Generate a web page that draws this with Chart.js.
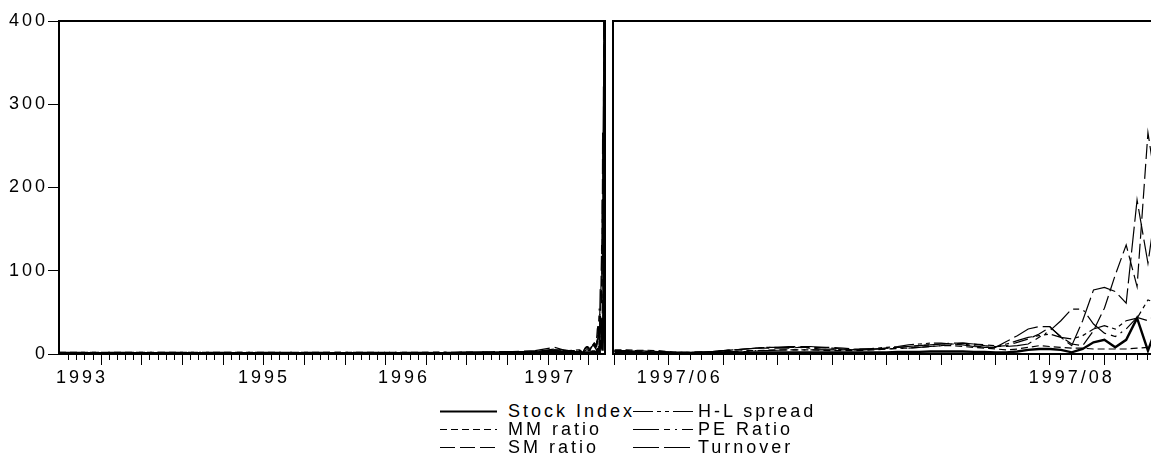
<!DOCTYPE html>
<html>
<head>
<meta charset="utf-8">
<script src="https://cdn.jsdelivr.net/npm/chart.js@4.4.1/dist/chart.umd.min.js"></script>
<style>
  html, body { margin: 0; padding: 0; background: #fff; }
  body { position: relative; width: 1151px; height: 472px; overflow: hidden; }
  canvas { position: absolute; top: 0; }
  #left { left: 0; }
  #right { left: 600px; }
  #legend { position: absolute; left: 0; top: 0; font: 18px 'Liberation Sans', Arial, sans-serif; letter-spacing: 3px; color: #000; }
  .item { position: absolute; height: 18px; line-height: 18px; white-space: nowrap; }
  .item svg { position: absolute; top: 0; }
  .item span { position: absolute; top: 0; }
</style>
</head>
<body>
<canvas id="left" width="607" height="400"></canvas>
<canvas id="right" width="620" height="400"></canvas>
<div id="legend"></div>
<script>
'use strict';

// long history, sampled observation index -> values (all close to zero)
const histIndex = [0, 90, 180, 270, 360, 450, 540, 630, 720, 810, 900, 990, 1030, 1060];
const stockHist = [1, 1, 1, 1, 1, 1, 1, 1, 1, 1, 1.5, 1.5, 3, 2];
const hlHist    = [1.5, 1.5, 1.5, 1.5, 1.5, 1.5, 1.5, 1.5, 1.5, 2, 2, 2.5, 5, 4];
const mmHist    = [2, 2, 2, 2, 2, 2, 2, 2, 2, 2, 2.5, 3, 5, 4];
const peHist    = [2, 2, 2, 2, 2, 2, 2, 2, 2, 2, 2.5, 3, 4, 3];
const smHist    = [1, 1, 1, 1, 1, 1, 1, 1, 1, 1.5, 2, 3, 6, 4];
const toHist    = [1, 1, 1, 1, 1, 1, 1, 1, 1, 1, 2, 4, 8, 3];

// last window, one value per observation (1997/05 .. end)
const recentStart = 1081;
const stockRecent = [2, 2, 2, 1.5, 1.5, 1, 1, 1, 1, 1.5, 1.5, 1.5, 2, 2, 2, 2, 2, 2, 2, 2,
  2, 2, 2, 2, 2, 2, 2.5, 2.5, 2.5, 3, 3, 3, 3, 2.5, 2.5, 2, 2, 3, 5, 6,
  6, 5, 2, 6, 14, 17, 8, 17, 43, 4, 40, 150, 320, 420];
const hlRecent = [4, 4, 3.5, 3, 3, 2, 2, 2, 2.5, 3, 4, 5, 6, 7, 8, 8, 8, 8, 7, 6,
  6, 5, 5, 6, 7, 8, 9, 11, 12, 13, 13, 12, 12, 10, 8, 8, 12, 16, 20, 22,
  24, 20, 18, 22, 30, 34, 30, 40, 43, 65, 60, 150, 350, 480];
const mmRecent = [5, 5, 4.5, 4.5, 4, 3, 2, 2, 2, 2.5, 3, 3.5, 4, 4, 4.5, 5, 5, 5, 5, 4.5,
  4, 4, 4, 4.5, 5, 6, 7, 7, 8, 9, 10, 10, 9, 8, 7, 6, 5, 6, 8, 10,
  9, 8, 7, 7, 6, 6, 6, 6, 7, 8, 30, 120, 300, 450];
const peRecent = [3, 3, 3, 2.5, 2.5, 2, 1.5, 1.5, 2, 2, 2.5, 3, 3, 4, 4, 4.5, 5, 5, 5, 5,
  5, 5, 5.5, 6, 6, 6, 6.5, 7, 8, 9, 10, 12, 13, 12, 11, 10, 9, 10, 12, 20,
  28, 40, 54, 54, 36, 25, 21, 30, 44, 40, 50, 140, 330, 460];
const smRecent = [4, 4, 4, 3.5, 3, 2.5, 2, 2, 2, 3, 4, 5, 6, 7, 7, 7, 7, 8, 8, 8,
  8, 7, 6, 6, 6, 7, 8, 9, 10, 11, 12, 13, 13, 12, 10, 9, 10, 14, 18, 24,
  32, 21, 12, 10, 28, 55, 95, 131, 81, 266, 180, 260, 400, 520];
const toRecent = [3, 3, 3, 3, 2.5, 2, 2, 2, 2.5, 3, 4, 5, 6, 7, 8, 8, 9, 9, 9, 8,
  7, 6, 5, 5, 6, 7, 8, 9, 10, 11, 12, 12, 11, 9, 8, 8, 15, 22, 30, 33,
  33, 20, 10, 40, 77, 80, 75, 61, 185, 109, 200, 300, 420, 520];

// axes
const yTicks = [0, 100, 200, 300, 400];
const yearLabels = ['1993', '1995', '1996', '1997'];
const yearIndex = [48, 426, 717, 1021];
const monthLabels = ['1997/06', '1997/08'];
const monthObs = [6, 42];

const series = [
  { name: 'Stock Index', hist: stockHist, recent: stockRecent, dash: [], width: 2.4 },
  { name: 'H-L spread', hist: hlHist, recent: hlRecent, dash: [20, 4, 4, 4, 4, 4], width: 1.2 },
  { name: 'MM ratio', hist: mmHist, recent: mmRecent, dash: [7, 4], width: 1.2 },
  { name: 'PE Ratio', hist: peHist, recent: peRecent, dash: [26, 5, 6, 5, 2, 5], width: 1.2 },
  { name: 'SM ratio', hist: smHist, recent: smRecent, dash: [15, 5], width: 1.2 },
  { name: 'Turnover', hist: toHist, recent: toRecent, dash: [26, 5], width: 1.2 }
];

Chart.defaults.font.family = "'Liberation Sans', Arial, sans-serif";
Chart.defaults.font.size = 18;
Chart.defaults.color = '#000';

const spacing = { id: 'spacing', beforeDraw(chart) { chart.ctx.letterSpacing = '3px'; } };

function frameAxis(pos) {
  return {
    type: 'linear', position: pos,
    grid: { display: false }, ticks: { display: false },
    border: { display: true, color: '#000', width: 2 },
    afterFit: s => { if (pos === 'top' || pos === 'bottom') s.height = 0; else s.width = 0; }
  };
}

// tick list builder: minor ticks, every 5th long, plus label-only ticks
function tickAxis(values, majors, labels, min, max) {
  const all = values.concat([...labels.keys()].filter(v => values.indexOf(v) < 0)).sort((a, b) => a - b);
  return {
    type: 'linear', position: 'bottom', min: min, max: max,
    afterBuildTicks: s => { s.ticks = all.map(v => ({ value: v })); },
    afterFit: s => { s.height = 46; },
    ticks: { autoSkip: false, maxRotation: 0, minRotation: 0, padding: 2,
      callback: v => labels.get(v) || '' },
    grid: {
      drawOnChartArea: false, tickLength: 11, tickColor: '#000',
      tickWidth: c => (c.tick && values.indexOf(c.tick.value) < 0) ? 0 : 1,
      tickBorderDash: c => (c.tick && majors.has(c.tick.value)) ? [] : [5, 40]
    },
    border: { display: true, color: '#000', width: 2 }
  };
}

// left panel: whole sample
const leftTickVals = [], leftMajor = new Set();
for (let i = 0; 20 + i * 16.9 <= 1135; i++) {
  const v = 20 + i * 16.9;
  leftTickVals.push(v);
  if (i % 5 === 4) leftMajor.add(v);
}
const leftLabels = new Map(yearIndex.map((v, i) => [v, yearLabels[i]]));

new Chart(document.getElementById('left'), {
  type: 'line',
  data: {
    datasets: series.map(s => ({
      label: s.name,
      data: s.hist.map((v, i) => ({ x: histIndex[i], y: v }))
        .concat(s.recent.map((v, k) => ({ x: recentStart + k, y: v }))),
      borderColor: '#000', borderWidth: s.width, borderDash: s.dash,
      pointRadius: 0, tension: 0, fill: false
    }))
  },
  options: {
    responsive: false, animation: false,
    layout: { padding: { top: 21, right: 2, bottom: 0, left: 0 } },
    plugins: { legend: { display: false }, tooltip: { enabled: false } },
    scales: {
      x: tickAxis(leftTickVals, leftMajor, leftLabels, 0, 1135),
      y: {
        min: 0, max: 400,
        afterBuildTicks: s => { s.ticks = yTicks.map(v => ({ value: v })); },
        afterFit: s => { s.width = 59; },
        ticks: { padding: 0 },
        grid: { drawOnChartArea: false, tickLength: 11, tickColor: '#000' },
        border: { display: true, color: '#000', width: 2 }
      },
      x2: frameAxis('top'),
      y2: frameAxis('right')
    }
  },
  plugins: [spacing]
});

// right panel: last window, one tick per observation
const rightTickVals = [], rightMajor = new Set();
for (let k = 0; k <= 54; k++) {
  rightTickVals.push(k);
  if (k % 5 === 0) rightMajor.add(k);
}
const rightLabels = new Map(monthObs.map((v, i) => [v, monthLabels[i]]));

new Chart(document.getElementById('right'), {
  type: 'line',
  data: {
    datasets: series.map(s => ({
      label: s.name,
      data: s.recent.map((v, k) => ({ x: k, y: v })),
      borderColor: '#000', borderWidth: s.width, borderDash: s.dash,
      pointRadius: 0, tension: 0, fill: false
    }))
  },
  options: {
    responsive: false, animation: false,
    layout: { padding: { top: 21, right: 10, bottom: 0, left: 0 } },
    plugins: { legend: { display: false }, tooltip: { enabled: false } },
    scales: {
      x: tickAxis(rightTickVals, rightMajor, rightLabels, -0.14, 54.7),
      y: {
        min: 0, max: 400,
        afterFit: s => { s.width = 13; },
        ticks: { display: false },
        grid: { display: false },
        border: { display: true, color: '#000', width: 2 }
      },
      x2: frameAxis('top')
    }
  },
  plugins: [spacing]
});

// legend, two columns
const legend = document.getElementById('legend');
const colSample = [440, 633], colWidth = [57, 60], colText = [508, 698];
const rowY = [411, 429, 447];
series.forEach((s, i) => {
  const c = i % 2, r = Math.floor(i / 2);
  const item = document.createElement('div');
  item.className = 'item';
  item.style.left = '0px';
  item.style.top = (rowY[r] - 9) + 'px';
  item.innerHTML =
    '<svg width="' + colWidth[c] + '" height="18" style="left:' + colSample[c] + 'px">' +
    '<line x1="0" y1="9.5" x2="' + colWidth[c] + '" y2="9.5" stroke="#000" stroke-width="' + (s.width > 2 ? 2 : 1) + '"' +
    (s.dash.length ? ' stroke-dasharray="' + s.dash.join(',') + '"' : '') + '/></svg>' +
    '<span style="left:' + colText[c] + 'px">' + s.name + '</span>';
  legend.appendChild(item);
});
</script>
</body>
</html>
